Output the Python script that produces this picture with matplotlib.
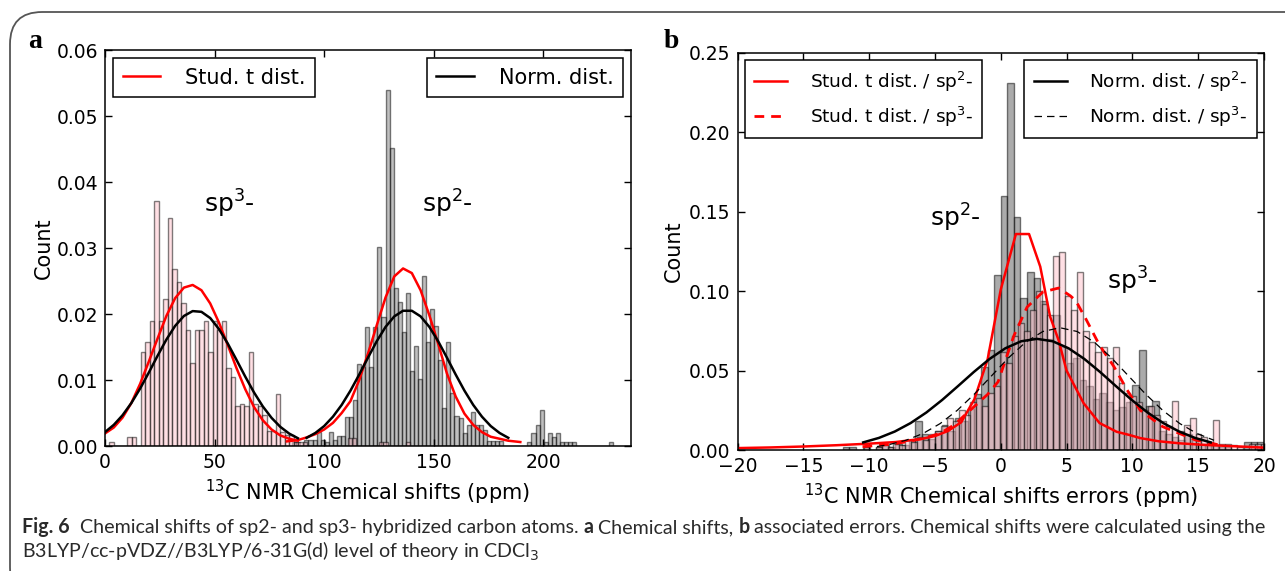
import numpy as np
import matplotlib
matplotlib.use("Agg")
import matplotlib.pyplot as plt
from matplotlib.patches import FancyBboxPatch
from matplotlib.lines import Line2D

# ---------------- Panel a data ----------------
a_sp3_start = 2.0
a_sp3_width = 2.05
a_sp3_counts = [0.0006, 0, 0, 0, 0.0013, 0.0013, 0, 0.0143, 0.0157, 0.0189,
                0.0371, 0.019, 0.0222, 0.0346, 0.0268, 0.0248, 0.0217, 0.0176, 0.0126, 0.0176,
                0.0176, 0.019, 0.0143, 0.019, 0.0176, 0.019, 0.0118, 0.0105, 0.006, 0.0063,
                0.006, 0.0143, 0.0063, 0.006, 0.0047, 0.0022, 0.0022, 0.0079, 0.0021, 0.0016,
                0.0016, 0.0006, 0.0006, 0.0006, 0, 0, 0, 0, 0, 0,
                0, 0, 0, 0.0012, 0.0012, 0, 0, 0, 0, 0,
                0.0006, 0.0006, 0, 0, 0, 0, 0.0006]
a_sp2_start = 85.45
a_sp2_width = 1.85
a_sp2_counts = [0.0006, 0.0006, 0, 0.0009, 0.0009, 0.0009, 0.0021, 0.0009, 0.0006, 0.0021,
                0.0009, 0.0015, 0.0015, 0.0044, 0.0044, 0.0070, 0.0125, 0.0120, 0.0181, 0.0120,
                0.0181, 0.0302, 0.0196, 0.054, 0.0452, 0.0239, 0.0218, 0.0172, 0.0232, 0.0113,
                0.0151, 0.0101, 0.0257, 0.0158, 0.0208, 0.0182, 0.0130, 0.0057, 0.0158, 0.0080,
                0.0045, 0.0042, 0.0019, 0.0032, 0.0052, 0.0032, 0.0032, 0.0024, 0.0007, 0.0007,
                0.0007, 0.0007, 0, 0, 0, 0, 0, 0, 0.0006, 0.0019,
                0.0032, 0.0055, 0.0006, 0.0019, 0.0013, 0.0019, 0.0006, 0.0006, 0.0006, 0.0006,
                0, 0, 0, 0, 0, 0, 0, 0, 0.0006]

a_t_sp3_x = [0, 4, 8, 12, 16, 20, 24, 28, 32, 36, 40, 44, 48, 52, 56, 60, 64, 68, 72, 76, 80, 84, 88]
a_t_sp3_y = [0.0019, 0.0028, 0.0043, 0.0065, 0.0094, 0.0128, 0.0163, 0.0197, 0.0224, 0.0240, 0.0244,
             0.0236, 0.0216, 0.0187, 0.0153, 0.0118, 0.0086, 0.0059, 0.0039, 0.0025, 0.0016, 0.0011, 0.0008]
a_t_sp2_x = [83, 88, 92, 96, 100, 104, 108, 112, 116, 120, 124, 128, 132, 136, 140, 144, 148, 152,
             156, 160, 164, 168, 172, 176, 180, 184, 189.5]
a_t_sp2_y = [0.0007, 0.0009, 0.0013, 0.0018, 0.0025, 0.0035, 0.0050, 0.0068, 0.0100, 0.0140, 0.0183,
             0.0225, 0.0257, 0.0269, 0.0262, 0.0236, 0.0198, 0.0155, 0.0110, 0.0075, 0.0049, 0.0032,
             0.0021, 0.0014, 0.0011, 0.0008, 0.0006]
a_n_sp3_x = [0, 4, 8, 12, 16, 20, 24, 28, 32, 36, 40, 44, 48, 52, 56, 60, 64, 68, 72, 76, 80, 84, 88]
a_n_sp3_y = [0.00211, 0.00320, 0.00466, 0.00650, 0.00869, 0.01113, 0.01368, 0.01612, 0.01820, 0.01970,
             0.02044, 0.02033, 0.01939, 0.01772, 0.01553, 0.01305, 0.01051, 0.00811, 0.00600, 0.00426,
             0.00290, 0.00189, 0.00118]
a_n_sp2_x = [92, 96, 100, 104, 108, 112, 116, 120, 124, 128, 132, 136, 140, 144, 148, 152, 156, 160,
             164, 168, 172, 176, 180, 184]
a_n_sp2_y = [0.00124, 0.00198, 0.00302, 0.00444, 0.00623, 0.00839, 0.01083, 0.01339, 0.01588, 0.01804,
             0.01964, 0.02049, 0.02049, 0.01964, 0.01804, 0.01588, 0.01339, 0.01083, 0.00839, 0.00623,
             0.00444, 0.00302, 0.00198, 0.00124]

# ---------------- Panel b data ----------------
b_sp2_start = -12.0
b_sp2_width = 0.5
b_sp2_counts = [0.002, 0.002, 0.000, 0.002, 0.000, 0.002, 0.003, 0.002, 0.004, 0.003,
                0.006, 0.018, 0.010, 0.007, 0.012, 0.016, 0.012, 0.020, 0.018, 0.026,
                0.035, 0.052, 0.063, 0.110, 0.160, 0.231, 0.147, 0.096, 0.112, 0.108,
                0.094, 0.070, 0.085, 0.065, 0.055, 0.058, 0.044, 0.040, 0.032, 0.036,
                0.030, 0.025, 0.027, 0.030, 0.041, 0.063, 0.028, 0.031, 0.012, 0.010,
                0.008, 0.006, 0.010, 0.006, 0.004, 0.004, 0.003, 0.002, 0.002, 0.000,
                0.000, 0.005, 0.005, 0.005]
b_sp3_start = -10.4
b_sp3_width = 0.45
b_sp3_counts = [0.002, 0.000, 0.002, 0.003, 0.002, 0.004, 0.003, 0.006, 0.005, 0.008,
                0.006, 0.010, 0.012, 0.015, 0.020, 0.018, 0.025, 0.022, 0.030, 0.033,
                0.028, 0.036, 0.040, 0.062, 0.055, 0.072, 0.080, 0.075, 0.088, 0.100,
                0.092, 0.085, 0.122, 0.125, 0.097, 0.088, 0.112, 0.075, 0.068, 0.062,
                0.065, 0.058, 0.065, 0.042, 0.036, 0.034, 0.030, 0.025, 0.028, 0.022,
                0.018, 0.015, 0.031, 0.012, 0.016, 0.020, 0.010, 0.008, 0.005, 0.019,
                0.004, 0.004, 0.003, 0.002, 0.000, 0.004, 0.004, 0.004]

b_t_sp2_x = [-20, -17.5, -15, -12.5, -10, -8, -6, -5, -4, -3, -2, -1, 0, 1.15, 2.15, 3.0, 3.75,
             4.4, 5.0, 6.3, 7.5, 8.8, 9.8, 10.6, 12.0, 13.6, 15.5, 17.4, 20]
b_t_sp2_y = [0.0012, 0.0016, 0.0022, 0.0030, 0.0040, 0.0050, 0.0070, 0.0088, 0.0120, 0.0175, 0.032,
             0.057, 0.101, 0.136, 0.136, 0.1155, 0.084, 0.069, 0.050, 0.0294, 0.017, 0.0115, 0.0094,
             0.0075, 0.0055, 0.0042, 0.0032, 0.0025, 0.0015]
b_t_sp3_x = [-10.5, -8.5, -7.1, -5.8, -4.6, -3.5, -2.6, -1.8, -1.0, -0.2, 0.5, 1.0, 2.0, 3.2, 4.4,
             5.3, 5.7, 6.5, 7.5, 8.6, 9.6, 10.6, 12.3, 14.8, 16.7]
b_t_sp3_y = [0.0021, 0.0035, 0.0052, 0.0075, 0.0105, 0.016, 0.023, 0.029, 0.035, 0.043, 0.060, 0.072,
             0.090, 0.0995, 0.102, 0.097, 0.094, 0.082, 0.066, 0.0525, 0.0378, 0.025, 0.0147, 0.0063,
             0.003]
b_n_sp2_x = [-10.45, -9.25, -8.05, -6.85, -5.65, -4.45, -3.25, -2.05, -0.85, 0.35, 1.55, 2.75, 3.95,
             5.15, 6.35, 7.55, 8.75, 9.95, 11.15, 12.35, 13.55, 14.75, 15.95]
b_n_sp2_y = [0.00479, 0.00763, 0.01163, 0.01695, 0.02363, 0.03152, 0.04023, 0.04910, 0.05734, 0.06406,
             0.06847, 0.0700, 0.06847, 0.06406, 0.05734, 0.04910, 0.04023, 0.03152, 0.02363, 0.01695,
             0.01163, 0.00763, 0.00479]
b_n_sp3_x = [-9.4, -8.5, -7.2, -5.9, -4.6, -3.3, -2.0, -0.7, 0.6, 1.9, 3.2, 4.5, 5.8, 7.1, 8.4, 9.7,
             11.0, 12.3, 13.6, 14.9, 16.2]
b_n_sp3_y = [0.00216, 0.00338, 0.00613, 0.01042, 0.01666, 0.02500, 0.03525, 0.04670, 0.05812, 0.06795,
             0.07463, 0.0770, 0.07463, 0.06795, 0.05812, 0.04670, 0.03525, 0.02500, 0.01666, 0.01042,
             0.00613]

# ---------------- figure ----------------
W, H = 1285, 571
fig = plt.figure(figsize=(W / 100, H / 100), dpi=100)
plt.rcParams['font.family'] = ['DejaVu Sans']
plt.rcParams['mathtext.fontset'] = 'dejavusans'

PINK = (1.0, 0.753, 0.796, 0.5)
GRAY_A = (0.5, 0.5, 0.5, 0.5)
GRAY_B = (0.45, 0.45, 0.45, 0.6)
EDGE = (0.0, 0.0, 0.0, 0.5)


def fpos(l, t, r, b):
    return [l / W, 1 - b / H, (r - l) / W, (b - t) / H]


def bars(ax, start, width, counts, color):
    edges = start + width * np.arange(len(counts))
    ax.bar(edges, counts, width=width, align='edge', color=color,
           edgecolor=EDGE, linewidth=1.0)


def style(ax):
    ax.tick_params(direction='in', top=True, right=True, length=5, width=1,
                   labelsize=13.5, pad=5)
    for s in ax.spines.values():
        s.set_linewidth(1.1)
        s.set_color('black')


# Panel a
axa = fig.add_axes(fpos(105, 50, 631, 446))
bars(axa, a_sp2_start, a_sp2_width, a_sp2_counts, GRAY_A)
bars(axa, a_sp3_start, a_sp3_width, a_sp3_counts, PINK)
axa.plot(a_t_sp3_x, a_t_sp3_y, color='red', lw=1.8)
axa.plot(a_t_sp2_x, a_t_sp2_y, color='red', lw=1.8)
axa.plot(a_n_sp3_x, a_n_sp3_y, color='black', lw=1.8)
axa.plot(a_n_sp2_x, a_n_sp2_y, color='black', lw=1.8)
axa.set_xlim(0, 240)
axa.set_ylim(0, 0.06)
axa.set_xticks([0, 50, 100, 150, 200])
axa.set_yticks(np.arange(0, 0.061, 0.01))
axa.set_yticklabels(['0.00', '0.01', '0.02', '0.03', '0.04', '0.05', '0.06'])
style(axa)
axa.set_ylabel('Count', fontsize=15, labelpad=2)
axa.set_xlabel(r'$^{13}$C NMR Chemical shifts (ppm)', fontsize=15, labelpad=4)
axa.text(45.2, 0.0353, r'sp$^3$-', fontsize=18, ha='left', va='baseline')
axa.text(144.7, 0.0353, r'sp$^2$-', fontsize=18, ha='left', va='baseline')

leg_kw = dict(frameon=True, fancybox=False, edgecolor='black', framealpha=1,
              fontsize=15, handlelength=1.8, handletextpad=1.2, borderpad=0.45,
              borderaxespad=0.4)
l1 = axa.legend([Line2D([], [], color='red', lw=1.8)], ['Stud. t dist.'],
                loc='upper left', **leg_kw)
l1.get_frame().set_linewidth(1.1)
axa.add_artist(l1)
l2 = axa.legend([Line2D([], [], color='black', lw=1.8)], ['Norm. dist.'],
                loc='upper right', **leg_kw)
l2.get_frame().set_linewidth(1.1)

# Panel b
axb = fig.add_axes(fpos(737.5, 53, 1264, 450))
bars(axb, b_sp2_start, b_sp2_width, b_sp2_counts, GRAY_B)
bars(axb, b_sp3_start, b_sp3_width, b_sp3_counts, PINK)
axb.plot(b_t_sp2_x, b_t_sp2_y, color='red', lw=1.8)
axb.plot(b_t_sp3_x, b_t_sp3_y, color='red', lw=2.0, ls=(0, (3.5, 2.5)))
axb.plot(b_n_sp2_x, b_n_sp2_y, color='black', lw=1.8)
axb.plot(b_n_sp3_x, b_n_sp3_y, color='black', lw=0.9, ls=(0, (6, 4)))
axb.set_xlim(-20, 20)
axb.set_ylim(0, 0.25)
axb.set_xticks(np.arange(-20, 21, 5))
axb.set_yticks(np.arange(0, 0.251, 0.05))
axb.set_yticklabels(['0.00', '0.05', '0.10', '0.15', '0.20', '0.25'])
style(axb)
axb.set_ylabel('Count', fontsize=15, labelpad=4)
axb.set_xlabel(r'$^{13}$C NMR Chemical shifts errors (ppm)', fontsize=15, labelpad=4)
axb.text(-5.4, 0.1406, r'sp$^2$-', fontsize=18, ha='left', va='baseline')
axb.text(8.07, 0.1008, r'sp$^3$-', fontsize=18, ha='left', va='baseline')

leg_kw_b = dict(leg_kw)
leg_kw_b['fontsize'] = 13.3
leg_kw_b['handlelength'] = 1.8
leg_kw_b['borderpad'] = 0.5
leg_kw_b['labelspacing'] = 0.6
l3 = axb.legend([Line2D([], [], color='red', lw=1.8),
                 Line2D([], [], color='red', lw=2.0, ls=(0, (3.5, 2.5)))],
                [r'Stud. t dist. / sp$^2$-', r'Stud. t dist. / sp$^3$-'],
                loc='upper left', **leg_kw_b)
l3.get_frame().set_linewidth(1.1)
axb.add_artist(l3)
l4 = axb.legend([Line2D([], [], color='black', lw=1.8),
                 Line2D([], [], color='black', lw=0.9, ls=(0, (6, 4)))],
                [r'Norm. dist. / sp$^2$-', r'Norm. dist. / sp$^3$-'],
                loc='upper right', **leg_kw_b)
l4.get_frame().set_linewidth(1.1)

# panel letters
fig.text(35 / W, 1 - 42 / H, 'a', fontsize=20, fontweight='bold',
         family='Liberation Serif', ha='center', va='center')
fig.text(671 / W, 1 - 42 / H, 'b', fontsize=20, fontweight='bold',
         family='Liberation Serif', ha='center', va='center')

# border box
box = FancyBboxPatch((10 / W, -0.05), 1.2, 1 - 12 / H + 0.05,
                     boxstyle='round,pad=0,rounding_size=0.025',
                     transform=fig.transFigure, fill=False,
                     edgecolor='#555555', linewidth=1.3, mutation_aspect=W / H)
fig.patches.append(box)

# caption
cap_font = ['Lato', 'DejaVu Sans']
line1 = [('Fig. 6', 'bold'), ('  ', None),
         ('Chemical shifts of sp2- and sp3- hybridized carbon atoms.', 'normal'), (' ', None),
         ('a', 'bold'), (' ', None), ('Chemical shifts,', 'normal'), (' ', None),
         ('b', 'bold'), (' ', None),
         ('associated errors. Chemical shifts were calculated using the', 'normal')]
line2 = [('B3LYP/cc-pVDZ//B3LYP/6-31G(d) level of theory in CDCl$_3$', 'normal')]

fig.canvas.draw()
rend = fig.canvas.get_renderer()


def width_px(s, size, weight):
    t = fig.text(0, 0, s, fontsize=size, fontweight=weight, family=cap_font)
    w = t.get_window_extent(rend).width
    t.remove()
    return w


def line_width(runs, size):
    sp = width_px('a a', size, 'normal') - width_px('aa', size, 'normal')
    tot = 0
    for s, w in runs:
        tot += sp * len(s) if w is None else width_px(s, size, w)
    return tot, sp


base = 12
tot, _ = line_width(line1, base)
size = base * (1236 / tot)


def draw_line(runs, x0, ybase, size):
    _, sp = line_width(runs, size)
    x = x0
    for s, w in runs:
        if w is None:
            x += sp * len(s)
            continue
        t = fig.text(x / W, 1 - ybase / H, s, fontsize=size, fontweight=w,
                     family=cap_font, va='baseline', ha='left', color='#2a2a2a')
        x += t.get_window_extent(rend).width


draw_line(line1, 22, 533, size)
draw_line(line2, 22, 558, size)

fig.savefig('out.png', dpi=100)
